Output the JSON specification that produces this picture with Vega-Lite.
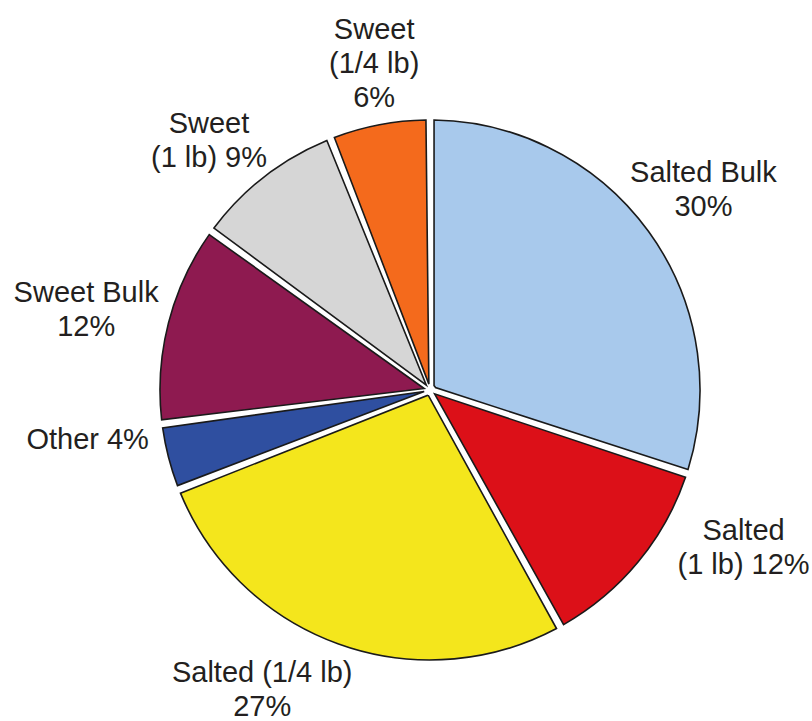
{
  "$schema": "https://vega.github.io/schema/vega-lite/v6.json",
  "width": 764,
  "height": 662,
  "autosize": {"type": "none"},
  "padding": {"left": 48, "top": 59, "right": 0, "bottom": 0},
  "background": "white",
  "view": {"stroke": null},
  "data": {"values": [
    {"idx": 1, "cat": "Salted Bulk", "value": 30, "label": "Salted Bulk\n30%"},
    {"idx": 2, "cat": "Salted (1 lb)", "value": 12, "label": "Salted\n(1 lb) 12%"},
    {"idx": 3, "cat": "Salted (1/4 lb)", "value": 27, "label": "Salted (1/4 lb)\n27%"},
    {"idx": 4, "cat": "Other", "value": 4, "label": "Other 4%"},
    {"idx": 5, "cat": "Sweet Bulk", "value": 12, "label": "Sweet Bulk\n12%"},
    {"idx": 6, "cat": "Sweet (1 lb)", "value": 9, "label": "Sweet\n(1 lb) 9%"},
    {"idx": 7, "cat": "Sweet (1/4 lb)", "value": 6, "label": "Sweet\n(1/4 lb)\n6%"}
  ]},
  "encoding": {
    "theta": {"field": "value", "type": "quantitative", "stack": true},
    "order": {"field": "idx", "type": "quantitative"},
    "detail": {"field": "cat", "type": "nominal"}
  },
  "layer": [
    {
      "mark": {"type": "arc", "outerRadius": 270, "innerRadius": 6, "padAngle": 0.03, "stroke": "#1a1a1a", "strokeWidth": 1.6},
      "encoding": {
        "color": {
          "field": "cat", "type": "nominal", "legend": null,
          "scale": {
            "domain": ["Salted Bulk", "Salted (1 lb)", "Salted (1/4 lb)", "Other", "Sweet Bulk", "Sweet (1 lb)", "Sweet (1/4 lb)"],
            "range": ["#a8c9ec", "#dc1018", "#f4e61c", "#2f4fa0", "#8e1a50", "#d6d6d6", "#f46a1c"]
          }
        }
      }
    },
    {
      "mark": {"type": "text", "radius": 338, "dy": -18, "font": "Liberation Sans", "fontSize": 29, "lineHeight": 34, "lineBreak": "\n", "fill": "#231f20", "align": "center", "baseline": "middle"},
      "encoding": {"text": {"condition": {"test": "datum.cat === 'Salted Bulk'", "field": "label"}, "value": ""}}
    },
    {
      "mark": {"type": "text", "radius": 351, "thetaOffset": -0.225, "dy": -17, "font": "Liberation Sans", "fontSize": 29, "lineHeight": 34, "lineBreak": "\n", "fill": "#231f20", "align": "center", "baseline": "middle"},
      "encoding": {"text": {"condition": {"test": "datum.cat === 'Salted (1 lb)'", "field": "label"}, "value": ""}}
    },
    {
      "mark": {"type": "text", "radius": 344, "thetaOffset": 0.164, "dy": -17, "font": "Liberation Sans", "fontSize": 29, "lineHeight": 34, "lineBreak": "\n", "fill": "#231f20", "align": "center", "baseline": "middle"},
      "encoding": {"text": {"condition": {"test": "datum.cat === 'Salted (1/4 lb)'", "field": "label"}, "value": ""}}
    },
    {
      "mark": {"type": "text", "radius": 346, "thetaOffset": 0.106, "font": "Liberation Sans", "fontSize": 29, "lineHeight": 34, "lineBreak": "\n", "fill": "#231f20", "align": "center", "baseline": "middle"},
      "encoding": {"text": {"condition": {"test": "datum.cat === 'Other'", "field": "label"}, "value": ""}}
    },
    {
      "mark": {"type": "text", "radius": 355, "dy": -9, "font": "Liberation Sans", "fontSize": 29, "lineHeight": 34, "lineBreak": "\n", "fill": "#231f20", "align": "center", "baseline": "middle"},
      "encoding": {"text": {"condition": {"test": "datum.cat === 'Sweet Bulk'", "field": "label"}, "value": ""}}
    },
    {
      "mark": {"type": "text", "radius": 333, "thetaOffset": -0.066, "dy": -17, "font": "Liberation Sans", "fontSize": 29, "lineHeight": 34, "lineBreak": "\n", "fill": "#231f20", "align": "center", "baseline": "middle"},
      "encoding": {"text": {"condition": {"test": "datum.cat === 'Sweet (1 lb)'", "field": "label"}, "value": ""}}
    },
    {
      "mark": {"type": "text", "radius": 333, "thetaOffset": 0.02, "dy": -32, "font": "Liberation Sans", "fontSize": 29, "lineHeight": 34, "lineBreak": "\n", "fill": "#231f20", "align": "center", "baseline": "middle"},
      "encoding": {"text": {"condition": {"test": "datum.cat === 'Sweet (1/4 lb)'", "field": "label"}, "value": ""}}
    }
  ]
}
